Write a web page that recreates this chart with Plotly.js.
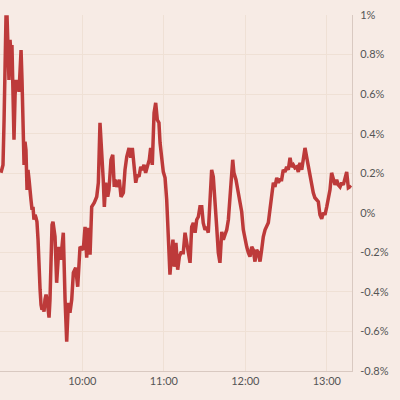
<!DOCTYPE html>
<html>
<head>
<meta charset="utf-8">
<script src="https://cdn.plot.ly/plotly-3.0.1.min.js"></script>
<style>html,body{margin:0;padding:0;background:#f7ebe5;}#chart{width:400px;height:400px;}</style>
</head>
<body>
<div id="chart"></div>
<script>
// minutes after 09:00
const minutes = [0.1,1.6,2.4,3.1,3.8,4.6,5.3,6.0,6.8,7.5,8.2,9.0,9.7,10.5,11.2,11.9,12.7,13.4,14.1,14.9,15.6,16.3,17.1,17.8,18.5,19.3,20.0,20.8,21.5,22.2,23.0,23.7,24.4,25.2,25.9,26.6,27.4,28.1,28.9,29.6,30.3,31.1,31.8,32.5,33.3,34.0,34.7,35.5,36.2,36.9,37.7,38.4,39.9,41.1,42.8,44.1,46.0,47.3,48.5,49.7,50.9,52.2,53.4,55.1,56.6,58.3,60.7,62.0,63.2,64.4,65.7,66.9,68.8,70.6,71.8,73.0,74.3,75.4,76.2,77.2,78.7,79.6,81.1,82.4,83.5,84.1,85.3,87.2,88.5,90.2,91.4,92.7,94.4,95.6,96.8,98.0,99.3,100.5,101.7,103.0,104.1,105.4,106.6,107.8,109.3,110.3,111.5,112.8,114.0,115.2,116.4,117.2,118.4,119.6,120.9,122.1,123.3,124.5,125.8,126.7,127.7,128.9,130.2,131.4,132.6,134.3,135.6,136.8,138.0,139.3,140.5,141.7,143.0,144.2,145.4,146.6,147.9,149.0,150.3,151.5,152.7,154.0,155.2,156.4,157.6,158.9,160.1,161.3,162.6,163.8,165.0,166.3,167.5,168.7,169.9,170.7,171.6,173.1,174.8,176.0,177.3,178.5,179.7,181.0,182.2,183.4,184.7,185.8,187.1,188.3,189.5,190.8,192.0,193.2,194.5,195.7,196.9,198.1,199.4,200.6,201.8,203.1,204.2,205.5,206.7,207.9,209.2,210.4,211.6,212.9,214.1,215.3,216.5,217.8,219.0,220.2,221.5,222.7,223.9,225.1,226.3,227.6,228.8,230.0,231.2,232.5,233.7,234.9,236.2,237.4,238.6,239.9,241.1,242.3,243.5,244.7,246.0,247.2,248.4,249.7,250.9,252.1,253.3,254.6,255.8,257.0,257.7];
// percent change
const change = [0.202,0.242,0.470,0.874,0.99,0.99,0.823,0.672,0.874,0.798,0.848,0.621,0.369,0.596,0.672,0.621,0.672,0.611,0.722,0.823,0.672,0.369,0.242,0.359,0.318,0.116,0.217,0.167,0.091,0.066,0.015,0.030,-0.035,-0.010,-0.025,-0.045,-0.136,-0.288,-0.389,-0.465,-0.490,-0.480,-0.500,-0.439,-0.414,-0.439,-0.490,-0.530,-0.439,-0.237,-0.061,-0.045,-0.121,-0.354,-0.172,-0.237,-0.101,-0.439,-0.652,-0.455,-0.505,-0.439,-0.303,-0.278,-0.374,-0.172,-0.187,-0.071,-0.227,-0.076,-0.212,0.030,0.051,0.081,0.152,0.455,0.318,0.167,0.030,0.152,0.081,0.116,0.268,0.293,0.131,0.167,0.131,0.167,0.081,0.101,0.217,0.283,0.328,0.278,0.328,0.253,0.152,0.192,0.182,0.232,0.217,0.242,0.202,0.232,0.268,0.328,0.242,0.505,0.556,0.470,0.455,0.354,0.283,0.207,0.177,0.066,-0.121,-0.313,-0.202,-0.136,-0.273,-0.152,-0.288,-0.222,-0.202,-0.202,-0.101,-0.152,-0.202,-0.253,-0.071,-0.051,-0.101,-0.035,-0.020,0.030,0.030,-0.051,-0.086,-0.071,-0.101,0.051,0.217,0.182,0.081,-0.071,-0.202,-0.253,-0.096,-0.136,-0.111,-0.086,-0.035,0.101,0.232,0.268,0.202,0.167,0.101,0.051,0.005,-0.086,-0.136,-0.172,-0.202,-0.222,-0.172,-0.187,-0.247,-0.187,-0.202,-0.247,-0.187,-0.121,-0.086,-0.071,-0.051,0.015,0.081,0.152,0.131,0.177,0.152,0.167,0.167,0.217,0.207,0.232,0.217,0.278,0.232,0.242,0.227,0.232,0.207,0.253,0.217,0.293,0.328,0.283,0.232,0.182,0.131,0.101,0.076,0.066,0.056,-0.010,-0.030,0.000,-0.010,0.030,0.066,0.116,0.202,0.167,0.141,0.167,0.141,0.131,0.152,0.141,0.177,0.207,0.126,0.131,0.126];

const xTickVals = [60, 120, 180, 240];
const xTickText = ["10:00", "11:00", "12:00", "13:00"];
const yTickVals = [1, 0.8, 0.6, 0.4, 0.2, 0, -0.2, -0.4, -0.6, -0.8];
const yTickText = ["1%", "0.8%", "0.6%", "0.4%", "0.2%", "0%", "-0.2%", "-0.4%", "-0.6%", "-0.8%"];

const trace = {
  x: minutes, y: change, type: 'scatter', mode: 'lines',
  line: {color: '#bd3a3a', width: 3.5, shape: 'linear'},
  hoverinfo: 'skip'
};

const layout = {
  width: 400, height: 400,
  paper_bgcolor: '#f7ebe5', plot_bgcolor: '#f7ebe5',
  margin: {l: 0, r: 48, t: 15, b: 29},
  showlegend: false,
  font: {family: 'Lato, "Open Sans", sans-serif', size: 11, color: '#555'},
  xaxis: {
    range: [-0.6, 258.5], tickvals: xTickVals, ticktext: xTickText,
    showgrid: true, gridcolor: '#efe0d5', gridwidth: 1,
    showline: true, linecolor: '#d9c9c1', linewidth: 1,
    zeroline: false, ticks: '', fixedrange: true,
    tickfont: {size: 11, color: '#555'}
  },
  yaxis: {
    side: 'right', range: [-0.8, 1.0], tickvals: yTickVals, ticktext: yTickText,
    showgrid: true, gridcolor: '#efe0d5', gridwidth: 1,
    showline: true, linecolor: '#d9c9c1', linewidth: 1,
    zeroline: false, ticks: 'outside', ticklen: 5, tickcolor: 'rgba(0,0,0,0)',
    fixedrange: true, tickfont: {size: 11, color: '#555'}
  }
};

Plotly.newPlot('chart', [trace], layout, {displayModeBar: false, staticPlot: true});
</script>
</body>
</html>
